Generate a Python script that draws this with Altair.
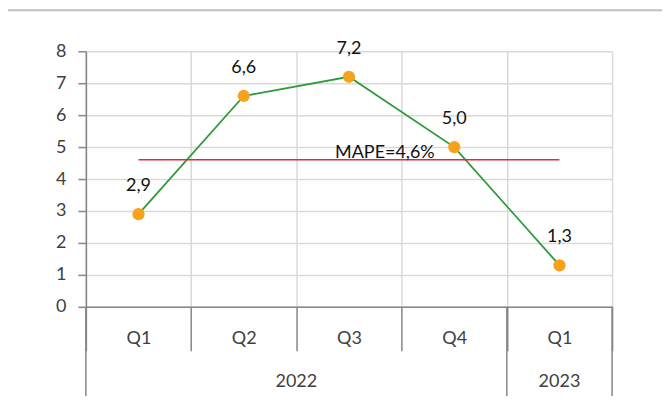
import altair as alt
import pandas as pd

# ---- data ----
quarters = ["Q1", "Q2", "Q3", "Q4", "Q1"]
years = ["2022", "2022", "2022", "2022", "2023"]
values = [2.9, 6.6, 7.2, 5.0, 1.3]
value_labels = ["2,9", "6,6", "7,2", "5,0", "1,3"]
mape_value = 4.6
mape_label = "MAPE=4,6%"
y_ticks = [0, 1, 2, 3, 4, 5, 6, 7, 8]
year_groups = ["2022", "2023"]

cats = [f"{y} {q}" for y, q in zip(years, quarters)]
df = pd.DataFrame({"cat": cats, "quarter": quarters, "year": years,
                   "value": values, "label": value_labels})

FONT = "Lato"
AX = "#868686"
GRID = "#d9d9d9"
W, H = 527, 256
PAD = {"left": 78, "top": 43, "right": 50, "bottom": 89}

xscale = alt.Scale(domain=cats, paddingInner=0, paddingOuter=0)
x_axis = alt.Axis(title=None, labelExpr="split(datum.label, ' ')[1]",
                  tickBand="extent", tickSize=44, tickColor=AX, tickWidth=1.5,
                  domainColor=AX, domainWidth=1.5, labelPadding=-12,
                  labelBaseline="middle", labelAngle=0,
                  labelFontSize=18, labelFont=FONT, labelColor="#404040",
                  grid=True, gridColor=GRID, gridWidth=1.5)
yscale = alt.Scale(domain=[0, 8], nice=False)
y_axis = alt.Axis(title=None, values=y_ticks, tickCount=len(y_ticks) + 2,
                  tickSize=8, tickColor=AX, tickWidth=1.5, domainColor=AX,
                  domainWidth=1.5, labelPadding=12, labelFontSize=18,
                  labelFont=FONT, labelColor="#404040", grid=True,
                  gridColor=GRID, gridWidth=1.5, labelOverlap=False)


def X(bp=None):
    if bp is None:
        return alt.X("cat:N", sort=cats, scale=xscale, axis=x_axis)
    return alt.X("cat:N", sort=cats, scale=xscale, axis=x_axis, bandPosition=bp)


def Y():
    return alt.Y("value:Q", scale=yscale, axis=y_axis)


base = alt.Chart(df)

line = base.mark_line(color="#2e9a3a", strokeWidth=1.8).encode(x=X(), y=Y())
pts = base.mark_circle(color="#f7a21c", size=150, opacity=1).encode(x=X(), y=Y())
lbl = base.mark_text(font=FONT, fontSize=18, color="#111111", dy=-28,
                     baseline="middle").encode(x=X(), y=Y(), text="label:N")

mape_df = pd.DataFrame({"cat": [cats[0]], "end": [cats[-1]],
                        "value": [mape_value], "t": [mape_label]})
mape_rule = alt.Chart(mape_df).mark_rule(color="#e8283a", strokeWidth=1.5).encode(
    x=X(), x2="end:N", y=Y())
mape_text_df = pd.DataFrame({"cat": [cats[2]], "value": [mape_value],
                             "t": [mape_label]})
mape_text = alt.Chart(mape_text_df).mark_text(
    font=FONT, fontSize=18, color="#111111", align="left",
    baseline="alphabetic", dx=-14, dy=-2).encode(x=X(), y=Y(), text="t:N")

# long separators of the year groups
sep_left = alt.Chart(pd.DataFrame({"cat": [cats[0], cats[4]]})).mark_rule(
    color=AX, strokeWidth=1.5).encode(
    x=X(0), y=alt.value(H), y2=alt.value(H + 90))
sep_right = alt.Chart(pd.DataFrame({"cat": [cats[4]]})).mark_rule(
    color=AX, strokeWidth=1.5).encode(
    x=X(1), y=alt.value(H), y2=alt.value(H + 90))

year_a = alt.Chart(pd.DataFrame({"cat": [cats[2]], "y": [year_groups[0]]})).mark_text(
    font=FONT, fontSize=18, color="#404040", baseline="middle").encode(
    x=X(0), y=alt.value(H + 75), text="y:N")
year_b = alt.Chart(pd.DataFrame({"cat": [cats[4]], "y": [year_groups[1]]})).mark_text(
    font=FONT, fontSize=18, color="#404040", baseline="middle").encode(
    x=X(0.5), y=alt.value(H + 75), text="y:N")

frame = alt.Chart(pd.DataFrame({"a": [0]})).mark_rule(
    color="#bfbfbf", strokeWidth=2).encode(
    x=alt.value(-PAD["left"]), x2=alt.value(W + PAD["right"] + 5),
    y=alt.value(-41))

chart = alt.layer(
    line, mape_rule, pts, lbl, mape_text, sep_left, sep_right, year_a, year_b, frame
).properties(
    width=W, height=H, padding=PAD, autosize="none", background="white"
).configure_view(strokeOpacity=0)

chart.save("out.html", embed_options={"renderer": "svg", "actions": False})
